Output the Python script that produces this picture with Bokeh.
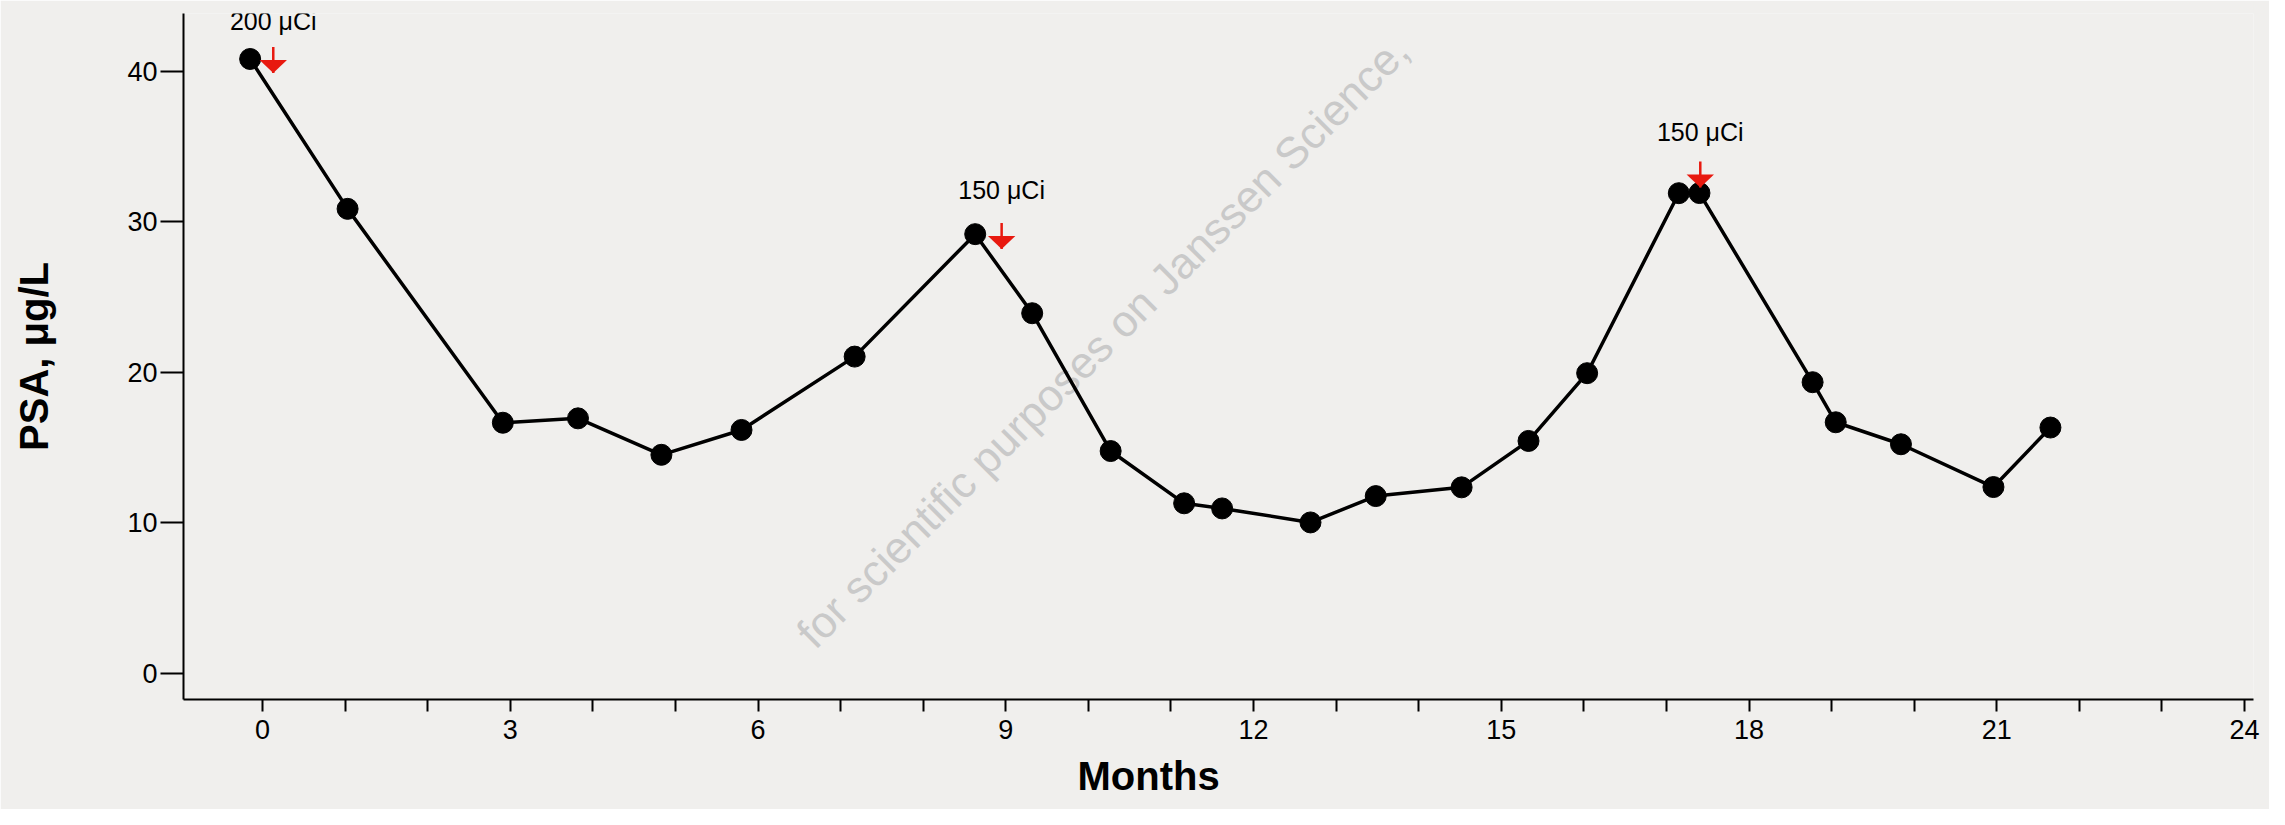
import math
from bokeh.plotting import figure
from bokeh.models import FixedTicker, Label, LabelSet, ColumnDataSource, Title
from bokeh.embed import file_html
from bokeh.resources import INLINE
from bokeh.core.properties import value

# ---------------- data ----------------
months = [-0.15, 1.03, 2.91, 3.82, 4.83, 5.80, 7.17, 8.63, 9.32, 10.27, 11.16, 11.62,
          12.69, 13.48, 14.52, 15.33, 16.04, 17.15, 17.40, 18.77, 19.05, 19.84, 20.96, 21.65]
psa = [40.8, 30.85, 16.65, 16.94, 14.52, 16.17, 21.04, 29.17, 23.92, 14.77, 11.30, 10.96,
       10.03, 11.78, 12.36, 15.44, 19.94, 31.89, 31.90, 19.34, 16.68, 15.22, 12.38, 16.33]

dose_month = [0.13, 8.95, 17.41]
dose_tip = [39.87, 28.19, 32.27]
dose_text = ["200 μCi", "150 μCi", "150 μCi"]
dose_text_y = [42.72, 31.51, 35.33]

x_ticks = list(range(0, 25))
x_tick_labels = {t: str(t) for t in range(0, 25, 3)}
y_ticks = [0, 10, 20, 30, 40]
x_title = "Months"
y_title = "PSA, μg/L"
watermark = "for scientific purposes on Janssen Science,"

# ---------------- style ----------------
BG = "#f0efed"
RED = "#e8190f"
FONT = "Liberation Sans"
W, H = 2269, 809
ML, MR, MT, MB = 183, 16, 13, 110
FW = W - ML - MR
FH = H - MT - MB
X0, X1 = -0.957, 24.109
Y0, Y1 = -1.726, 43.82
SX = FW / (X1 - X0)
SY = FH / (Y1 - Y0)

p = figure(width=W, height=H, x_range=(X0, X1), y_range=(Y0, Y1),
           output_backend="svg", toolbar_location=None, title=None,
           min_border_left=ML, min_border_right=MR, min_border_top=MT, min_border_bottom=MB,
           background_fill_color=BG, border_fill_color=BG, outline_line_color=None)
p.xgrid.visible = False
p.ygrid.visible = False

# axes
p.xaxis.ticker = FixedTicker(ticks=x_ticks, minor_ticks=[])
p.xaxis.major_label_overrides = {t: x_tick_labels.get(t, "") for t in x_ticks}
p.yaxis.ticker = FixedTicker(ticks=y_ticks, minor_ticks=[])
for ax, tout, stand in ((p.xaxis, 12, 8), (p.yaxis, 23, 3)):
    ax.axis_line_color = "black"
    ax.axis_line_width = 2
    ax.major_tick_line_color = "black"
    ax.major_tick_line_width = 2
    ax.major_tick_in = 0
    ax.major_tick_out = tout
    ax.minor_tick_in = 0
    ax.minor_tick_out = 0
    ax.major_label_standoff = stand
    ax.major_label_text_font = FONT
    ax.major_label_text_font_size = "27px"
    ax.major_label_text_color = "black"

p.yaxis.axis_label = y_title
p.yaxis.axis_label_standoff = 68
p.yaxis.axis_label_text_font = FONT
p.yaxis.axis_label_text_font_size = "40px"
p.yaxis.axis_label_text_font_style = "bold"
p.yaxis.axis_label_text_color = "black"

p.add_layout(Title(text=x_title, align="left", offset=894, vertical_align="bottom",
                   standoff=21, text_font=FONT, text_font_size="40px",
                   text_font_style="bold", text_color="black"), "below")

# watermark (behind data)
p.add_layout(Label(x=919, y=358, x_units="screen", y_units="screen", text=watermark,
                   angle=math.pi / 4, text_align="center", text_baseline="middle",
                   text_font=FONT, text_font_size="44px", text_color="#c9c9c9",
                   level="underlay"))

# data
p.line(months, psa, line_color="black", line_width=3.5)
p.scatter(months, psa, size=21, fill_color="black", line_color="black")

# dose arrows
p.segment(x0=dose_month, y0=dose_tip, x1=dose_month, y1=[t + 26 / SY for t in dose_tip],
          line_color=RED, line_width=2.5)
p.patches(xs=[[m - 13.7 / SX, m + 13.7 / SX, m] for m in dose_month],
          ys=[[t + 13 / SY, t + 13 / SY, t] for t in dose_tip],
          fill_color=RED, line_color=None)

src = ColumnDataSource(dict(x=dose_month, y=dose_text_y, text=dose_text))
p.add_layout(LabelSet(x="x", y="y", text="text", source=src, text_align="center",
                      text_baseline="alphabetic", text_font=value(FONT),
                      text_font_size=value("25px"), text_color="black"))

open("out.html", "w").write(file_html(p, INLINE))
